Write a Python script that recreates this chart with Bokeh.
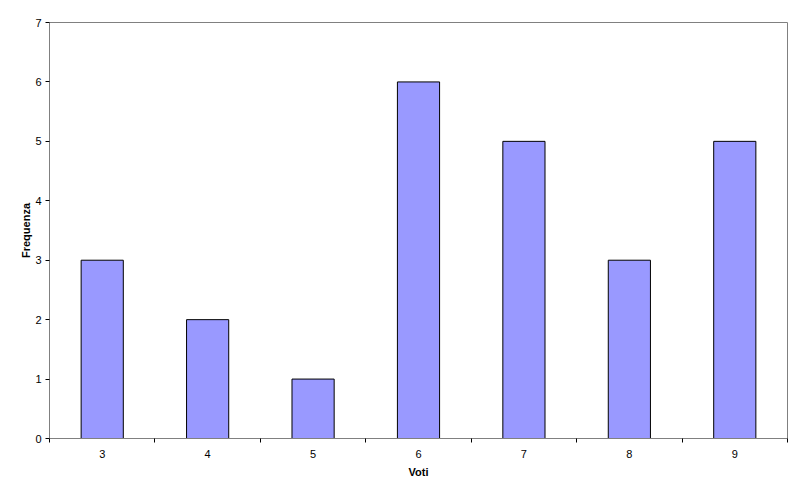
from bokeh.plotting import figure
from bokeh.models import FixedTicker, Range1d
from bokeh.embed import file_html
from bokeh.resources import INLINE

voti = [3, 4, 5, 6, 7, 8, 9]
frequenza = [3, 2, 1, 6, 5, 3, 5]
y_ticks = [0, 1, 2, 3, 4, 5, 6, 7]

p = figure(width=792, height=489, output_backend="svg", toolbar_location=None,
           x_range=Range1d(voti[0] - 0.5, voti[-1] + 0.5),
           y_range=Range1d(0, 7),
           min_border_left=49, min_border_right=5, min_border_top=22, min_border_bottom=51)

p.vbar(x=voti, top=frequenza, width=0.4, bottom=0,
       fill_color="#9999FF", line_color="black", line_width=1)

p.xgrid.visible = False
p.ygrid.visible = False
p.outline_line_color = "#808080"
p.outline_line_width = 1

boundaries = [v - 0.5 for v in voti] + [voti[-1] + 0.5]
p.xaxis.ticker = FixedTicker(ticks=voti, minor_ticks=boundaries)
p.xaxis.major_tick_out = 0
p.xaxis.major_tick_in = 0
p.xaxis.minor_tick_out = 4
p.xaxis.minor_tick_in = 0
p.xaxis.minor_tick_line_color = "black"
p.xaxis.axis_line_color = "#808080"
p.xaxis.axis_label = "Voti"
p.xaxis.major_label_standoff = 7

p.yaxis.ticker = FixedTicker(ticks=y_ticks)
p.yaxis.major_tick_out = 4
p.yaxis.major_tick_in = 0
p.yaxis.minor_tick_out = 0
p.yaxis.minor_tick_in = 0
p.yaxis.axis_line_color = "#808080"
p.yaxis.axis_label = "Frequenza"
p.yaxis.major_label_standoff = 4

for ax in (p.xaxis[0], p.yaxis[0]):
    ax.major_label_text_font = "Liberation Sans"
    ax.major_label_text_font_size = "11px"
    ax.major_label_text_color = "black"
    ax.axis_label_text_font = "Liberation Sans"
    ax.axis_label_text_font_size = "11px"
    ax.axis_label_text_font_style = "bold"
    ax.axis_label_text_color = "black"
    ax.major_tick_line_color = "black"

p.xaxis.axis_label_standoff = 5
p.yaxis.axis_label_standoff = 0

open("out.html", "w").write(file_html(p, INLINE))
